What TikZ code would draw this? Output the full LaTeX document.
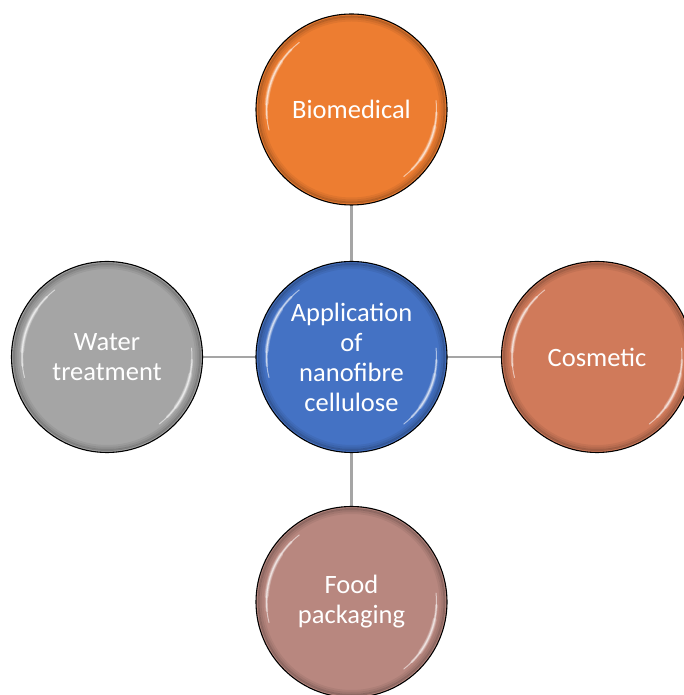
\documentclass[tikz,border=0pt]{standalone}
\usepackage{fontspec}
\setmainfont{Carlito}
\definecolor{cOrange}{HTML}{ED7D31}
\definecolor{cBlue}{HTML}{4472C4}
\definecolor{cGray}{HTML}{A5A5A5}
\definecolor{cCopper}{HTML}{D07A5A}
\definecolor{cRose}{HTML}{B8877F}
\definecolor{cLine}{HTML}{A5A5A5}
\newcommand\glossy[1]{%
  \begin{scope}[shift={(#1.center)}]
    \foreach \r/\w/\o in {93/2/0.22, 91/2/0.12, 89/2/0.06}{
      \draw[black,opacity=\o,line width=\w] (0,0) circle[radius=\r];
    }
    \foreach \a/\b/\w/\o in {128/194/1/0.55, 135/186/2.4/0.35, 146/176/4/0.25}{
      \draw[white,opacity=\o,line width=\w,line cap=round] (\a:85) arc[start angle=\a,end angle=\b,radius=85];
    }
    \foreach \a/\b/\w/\o in {-52/6/1/0.55, -45/-2/2.4/0.35, -36/-12/4/0.25}{
      \draw[white,opacity=\o,line width=\w,line cap=round] (\a:85) arc[start angle=\a,end angle=\b,radius=85];
    }
  \end{scope}}
\tikzset{
  ball/.style={circle, draw=black, line width=1.1pt, minimum size=191pt, inner sep=0pt,
    text=white, align=center, font=\fontsize{26.5}{30}\selectfont},
  link/.style={draw=cLine, line width=2.5pt}
}
\begin{document}
\begin{tikzpicture}[x=1pt,y=1pt]
\useasboundingbox (0,0) rectangle (684,695);
\begin{scope}
\clip (0,0) rectangle (684,695);
\coordinate (cc) at (351.5,338);
\coordinate (tc) at (351.5,585.5);
\coordinate (bc) at (351.5,93);
\coordinate (lc) at (107,338);
\coordinate (rc) at (597,338);
\draw[link] (cc) -- (tc);
\draw[link] (cc) -- (bc);
\draw[link] (cc) -- (lc);
\draw[link] (cc) -- (rc);
\node[ball, fill=cOrange] (top) at (tc) {Biomedical};
\glossy{top}
\node[ball, fill=cGray] (left) at (lc) {Water\\treatment};
\glossy{left}
\node[ball, fill=cCopper] (right) at (rc) {Cosmetic};
\glossy{right}
\node[ball, fill=cRose] (bottom) at (bc) {Food\\packaging};
\glossy{bottom}
\node[ball, fill=cBlue] (center) at (cc) {Application\\of\\nanofibre\\cellulose};
\glossy{center}
\end{scope}
\end{tikzpicture}
\end{document}
